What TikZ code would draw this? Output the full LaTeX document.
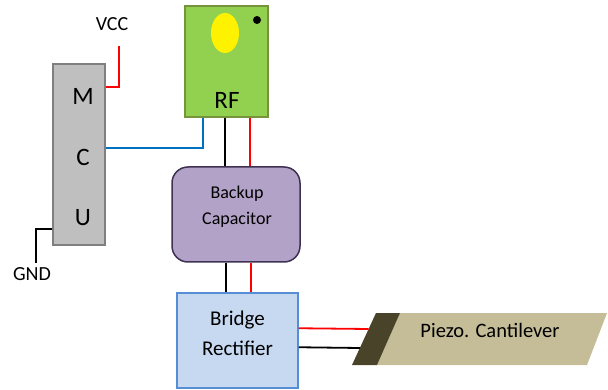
\documentclass[tikz,border=0pt]{standalone}
\usepackage{fontspec}
\setmainfont{Carlito}
\usetikzlibrary{shapes.geometric}
\definecolor{mcufill}{HTML}{BFBFBF}
\definecolor{mculine}{HTML}{7F7F7F}
\definecolor{rffill}{HTML}{92D050}
\definecolor{rfline}{HTML}{77933C}
\definecolor{capfill}{HTML}{B3A2C7}
\definecolor{capline}{HTML}{3F3151}
\definecolor{brfill}{HTML}{C6D9F1}
\definecolor{brline}{HTML}{558ED5}
\definecolor{wblue}{HTML}{0070C0}
\definecolor{wred}{HTML}{FF0000}
\definecolor{pztan}{HTML}{C4BD97}
\definecolor{pzdark}{HTML}{494429}
\tikzset{
  box/.style={draw, line width=1.5pt, inner sep=0pt, align=center},
  wirered/.style={wred, line width=1.8pt},
  wireblack/.style={black, line width=1.8pt},
  wireblue/.style={wblue, line width=1.8pt},
  lbl/.style={inner sep=0pt, align=center, font=\fontsize{20}{24}\selectfont},
}
\begin{document}
\begin{tikzpicture}[x=1pt,y=-1pt]
\useasboundingbox (0,0) rectangle (608,390);
% MCU
\node[box, fill=mcufill, draw=mculine, minimum width=52pt, minimum height=181pt] (mcu) at (79,154.5) {};
\node[lbl, font=\fontsize{25}{30}\selectfont] (m) at (83,96) {M};
\node[lbl, font=\fontsize{25}{30}\selectfont] (c) at (83,157) {C};
\node[lbl, font=\fontsize{25}{30}\selectfont] (u) at (83,218) {U};
% RF
\node[box, fill=rffill, draw=rfline, minimum width=83pt, minimum height=111pt] (rf) at (226.5,61.5) {};
\fill[yellow] (225,33) ellipse [x radius=14, y radius=20];
\fill[black] (257,20) circle [radius=4];
\node[lbl, font=\fontsize{25}{30}\selectfont] (rft) at (227,100) {RF};
% Backup capacitor
\node[box, fill=capfill, draw=capline, rounded corners=16pt, minimum width=128pt, minimum height=95pt] (cap) at (236,214.5) {};
\node[lbl, font=\fontsize{18}{26}\selectfont] (capt) at (237,207) {Backup\\Capacitor};
% Bridge rectifier
\node[box, fill=brfill, draw=brline, minimum width=121pt, minimum height=95pt] (br) at (237.5,340.5) {};
\node[lbl, font=\fontsize{21}{30}\selectfont] (brt) at (237.5,333) {Bridge\\Rectifier};
% Piezo
\coordinate (pa) at (352,365);
\coordinate (pb) at (376,313);
\coordinate (pc) at (400,313);
\coordinate (pd) at (377,365);
\coordinate (pe) at (607,313);
\coordinate (pf) at (587,365);
\fill[pztan] (pc) -- (pe) -- (pf) -- (pd) -- cycle;
\fill[pzdark] (pa) -- (pb) -- (pc) -- (pd) -- cycle;
\node[lbl, font=\fontsize{20.5}{24}\selectfont] (pz) at (490,330) {Piezo. Cantilever};
\coordinate (pzred) at (368.6,329);
\coordinate (pzblack) at (359.8,348);
% VCC / GND
\node[lbl] (vcc) at (112,24) {VCC};
\coordinate (vccend) at (119,46);
\node[lbl] (gnd) at (32,274) {GND};
\coordinate (gndend) at (36,263);
% wires
\draw[wirered] ([yshift=-24pt]mcu.north east) -| (vccend);
\draw[wireblack] ([yshift=17pt]mcu.south west) -| (gndend);
\draw[wireblue] ([xshift=19pt]rf.south west) |- ([yshift=6.5pt]mcu.east);
\draw[wireblack] ([xshift=41pt]rf.south west) -- ([xshift=41pt]rf.south west |- cap.north);
\draw[wirered] ([xshift=66pt]rf.south west) -- ([xshift=66pt]rf.south west |- cap.north);
\draw[wireblack] (226,0 |- cap.south) -- (226,0 |- br.north);
\draw[wirered] (251,0 |- cap.south) -- (251,0 |- br.north);
\draw[wirered] ([yshift=-36pt]br.north east) -- (pzred);
\draw[wireblack] ([yshift=-55pt]br.north east) -- (pzblack);
\end{tikzpicture}
\end{document}
